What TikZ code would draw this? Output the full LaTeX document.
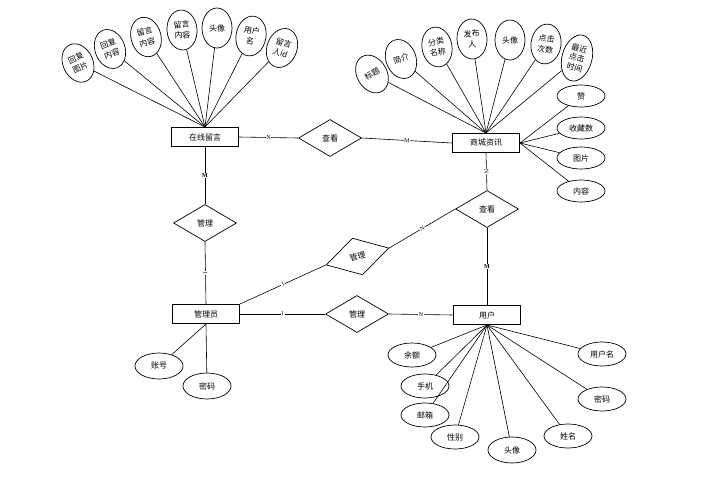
\documentclass[tikz,border=0pt]{standalone}
\usepackage{fontspec}
\setmainfont{Liberation Serif}
\newfontfamily\cjk{Noto Sans CJK SC}
\usetikzlibrary{shapes.geometric}
\begin{document}
\begin{tikzpicture}[x=1pt,y=-1pt,
  ent/.style={draw, line width=1pt, minimum width=67pt, minimum height=19pt, inner sep=0pt, font=\cjk\fontsize{8}{9}\selectfont},
  rel/.style={draw, diamond, line width=0.7pt, minimum width=63pt, minimum height=37pt, inner sep=0pt, font=\cjk\fontsize{8}{9}\selectfont},
  tatt/.style={draw, ellipse, line width=0.7pt, minimum width=30pt, minimum height=40pt, inner sep=0pt, align=center, font=\cjk\fontsize{8}{10.5}\selectfont},
  att/.style={draw, ellipse, line width=0.7pt, minimum width=48pt, minimum height=24pt, inner sep=0pt, font=\cjk\fontsize{8}{9}\selectfont},
  ln/.style={draw, line width=0.6pt},
  lab/.style={fill=white, inner sep=0.5pt, font=\fontsize{6}{6}\selectfont}]
\useasboundingbox (0,0) rectangle (702,488);

% entities
\node[ent] (e1) at (205,137) {在线留言};
\node[ent] (e2) at (486,143) {商城资讯};
\node[ent] (e3) at (206,314) {管理员};
\node[ent] (e4) at (487,315) {用户};

% relations
\node[rel] (r1) at (330,138) {查看};
\node[rel] (r2) at (205,223) {管理};
\node[rel] (r3) at (357,314) {管理};
\node[rel] (r4) at (487,209) {查看};
\node[rel, minimum width=65pt, minimum height=38pt, rotate=15] (r5) at (357.5,256.5) {管理};

% attributes of 在线留言
\node[tatt, rotate=25] (a1) at (78,63) {回复\\图片};
\node[tatt, rotate=20] (a2) at (110,49) {回复\\内容};
\node[tatt, rotate=15] (a3) at (146,37) {留言\\内容};
\node[tatt, rotate=5] (a4) at (182,30) {留言\\内容};
\node[tatt] (a5) at (217,28) {头像};
\node[tatt, rotate=-10] (a6) at (251,36) {用户\\名};
\node[tatt, rotate=-20] (a7) at (282,48) {留言\\人id};
\foreach \n in {a1,a2,a3,a4,a5,a6,a7} \draw[ln] (e1.north) -- (\n);

% attributes of 商城资讯
\node[tatt, rotate=30] (b1) at (372,74) {标题};
\node[tatt, rotate=20] (b2) at (401,59) {简介};
\node[tatt, rotate=10] (b3) at (437,47) {分类\\名称};
\node[tatt, rotate=3] (b4) at (472,39) {发布\\人};
\node[tatt] (b5) at (510,40) {头像};
\node[tatt, rotate=-8] (b6) at (546,44) {点击\\次数};
\node[tatt, rotate=-15, minimum height=47pt, font=\cjk\fontsize{8}{9.5}\selectfont] (b7) at (577,58) {最近\\点击\\时间};
\foreach \n in {b1,b2,b3,b4,b5,b6,b7} \draw[ln] (e2.north) -- (\n);
\node[att, minimum height=22pt] (b8) at (581,96) {赞};
\node[att, minimum height=22pt] (b9) at (581,128) {收藏数};
\node[att, minimum height=22pt] (b10) at (581,158) {图片};
\node[att, minimum height=22pt] (b11) at (581,191) {内容};
\foreach \n in {b8,b9,b10,b11} \draw[ln] (e2.east) -- (\n);

% attributes of 管理员
\node[att, minimum height=26pt] (c1) at (159,366) {账号};
\node[att, minimum height=26pt] (c2) at (207,386) {密码};
\draw[ln] (e3.south) -- (c1);
\draw[ln] (e3.south) -- (c2);

% attributes of 用户
\node[att] (d1) at (412,355) {余额};
\node[att] (d2) at (425,386) {手机};
\node[att] (d3) at (425,415) {邮箱};
\node[att] (d4) at (455,437) {性别};
\node[att, minimum height=26pt] (d5) at (512,450) {头像};
\node[att] (d6) at (568,436) {姓名};
\node[att] (d7) at (602,399) {密码};
\node[att] (d8) at (602,354) {用户名};
\foreach \n in {d1,d2,d3,d4,d5,d6,d7,d8} \draw[ln] (e4.south) -- (\n);

% relationship lines
\draw[ln] (e1.east) -- node[lab] {N} (r1.west);
\draw[ln] (r1.east) -- node[lab, sloped] {M} (e2.west);
\draw[ln] (e2.south) -- node[lab, sloped] {N} (r4.north);
\draw[ln] (r4.south) -- node[lab] {\textbf{M}} (e4.north);
\draw[ln] (e1.south) -- node[lab] {\textbf{M}} (r2.north);
\draw[ln] (r2.south) -- node[lab, sloped] {1} (e3.north);
\draw[ln] (e3.north east) -- node[lab, sloped] {1} (r5.west);
\draw[ln] (r5.east) -- node[lab, sloped] {N} (r4.west);
\draw[ln] (e3.east) -- node[lab] {1} (r3.west);
\draw[ln] (r3.east) -- node[lab] {N} (e4.west);
\end{tikzpicture}
\end{document}
